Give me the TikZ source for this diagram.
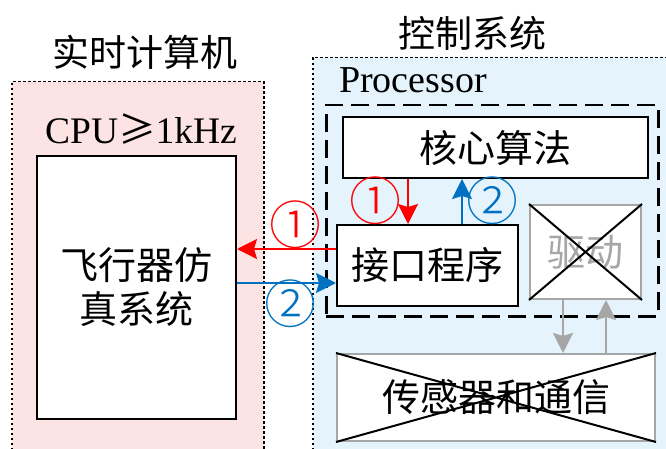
\documentclass[tikz,border=0pt]{standalone}
\usepackage{fontspec}
\setmainfont{Liberation Serif}
\newfontfamily\cjk{Noto Sans CJK SC}
\newfontfamily\cjklight{Noto Sans CJK SC Light}
\usetikzlibrary{arrows.meta}
\definecolor{pinkbg}{RGB}{253,228,228}
\definecolor{bluebg}{RGB}{229,244,252}
\definecolor{myblue}{RGB}{0,112,192}
\definecolor{mygray}{RGB}{166,166,166}
\tikzset{
  bgbox/.style={draw=black, line width=1.5pt, dash pattern=on 2.5pt off 2.5pt, anchor=north west, inner sep=0pt},
  blk/.style={draw=black, line width=2pt, fill=white, anchor=north west, inner sep=0pt,
    font=\cjk\fontsize{38}{44}\selectfont, align=center},
  gbox/.style={draw=mygray, line width=2pt, fill=white, anchor=north west, inner sep=0pt,
    font=\cjk\fontsize{38}{44}\selectfont, align=center},
  title/.style={font=\cjk\fontsize{37}{42}\selectfont, inner sep=0pt},
  circ/.style={font=\cjklight\fontsize{52}{56}\selectfont, inner sep=0pt},
  arr/.style={line width=2pt, -{Stealth[length=20pt 0 0,width=20pt 0 0,inset=3pt 0 0]}},
}
\begin{document}
\begin{tikzpicture}[x=1pt,y=-1pt]
\useasboundingbox (0,0) rectangle (666,449);
\clip (0,0) rectangle (666,449);
% backgrounds
\node[bgbox, fill=pinkbg, minimum width=252pt, minimum height=400pt] (rt) at (11,81) {};
\node[bgbox, fill=bluebg, minimum width=400pt, minimum height=420pt] (ctrl) at (312,57) {};
\node[title] (rtt) at (145,52) {实时计算机};
\node[title] (ctt) at (472,33) {控制系统};
\node[font=\fontsize{38}{42}\selectfont, inner sep=0pt, anchor=base west] (proc) at (339,93) {Processor};
\node[font=\fontsize{37.5}{44}\selectfont, inner sep=0pt, anchor=base] (cpu) at (141,144) {CPU{\cjk ≥}1kHz};
% dashed processor box
\node[draw=black, line width=2.5pt, dash pattern=on 18pt off 8pt, anchor=north west, inner sep=0pt,
  minimum width=332pt, minimum height=211pt] (pbox) at (325,104) {};
% blocks
\node[blk, minimum width=199pt, minimum height=263pt] (sim) at (36,155) {飞行器仿\\真系统};
\node[blk, minimum width=305pt, minimum height=61pt] (core) at (342,116) {核心算法};
\node[blk, minimum width=181pt, minimum height=81pt] (iface) at (336,224) {接口程序};
\node[gbox, minimum width=111pt, minimum height=94pt, text=mygray] (drive) at (529,204) {驱动};
\draw[line width=2pt] (drive.north west) -- (drive.south east) (drive.north east) -- (drive.south west);
\node[gbox, minimum width=318pt, minimum height=87pt] (sensor) at (336,353) {};
\draw[line width=2pt] (sensor.north west) -- (sensor.south east) (sensor.north east) -- (sensor.south west);
\node[font=\cjk\fontsize{38}{44}\selectfont, inner sep=0pt] (senst) at (sensor.center) {传感器和通信};
% horizontal arrows
\coordinate (r1) at ([yshift=16.5pt]iface.west);
\coordinate (b1) at ([yshift=-17.5pt]iface.west);
\draw[arr, red] (r1) -- (r1 -| sim.east);
\draw[arr, myblue] (b1 -| sim.east) -- (b1);
\node[circ, text=red] (c1a) at (295,225) {①};
\node[circ, text=myblue] (c2a) at (290,304) {②};
% vertical arrows
\coordinate (r2) at ([xshift=-19.5pt]iface.north);
\coordinate (b2) at ([xshift=34.5pt]iface.north);
\draw[arr, red] (r2 |- core.south) -- (r2);
\draw[arr, myblue] (b2) -- (b2 |- core.south);
\node[circ, text=red] (c1b) at (375,201) {①};
\node[circ, text=myblue] (c2b) at (492,201) {②};
% gray arrows
\coordinate (g1) at ([xshift=-22.5pt]drive.south);
\coordinate (g2) at ([xshift=20.5pt]drive.south);
\draw[arr, mygray, line width=2.5pt] (g1) -- (g1 |- sensor.north);
\draw[arr, mygray, line width=2.5pt] (g2 |- sensor.north) -- (g2);
\end{tikzpicture}
\end{document}
